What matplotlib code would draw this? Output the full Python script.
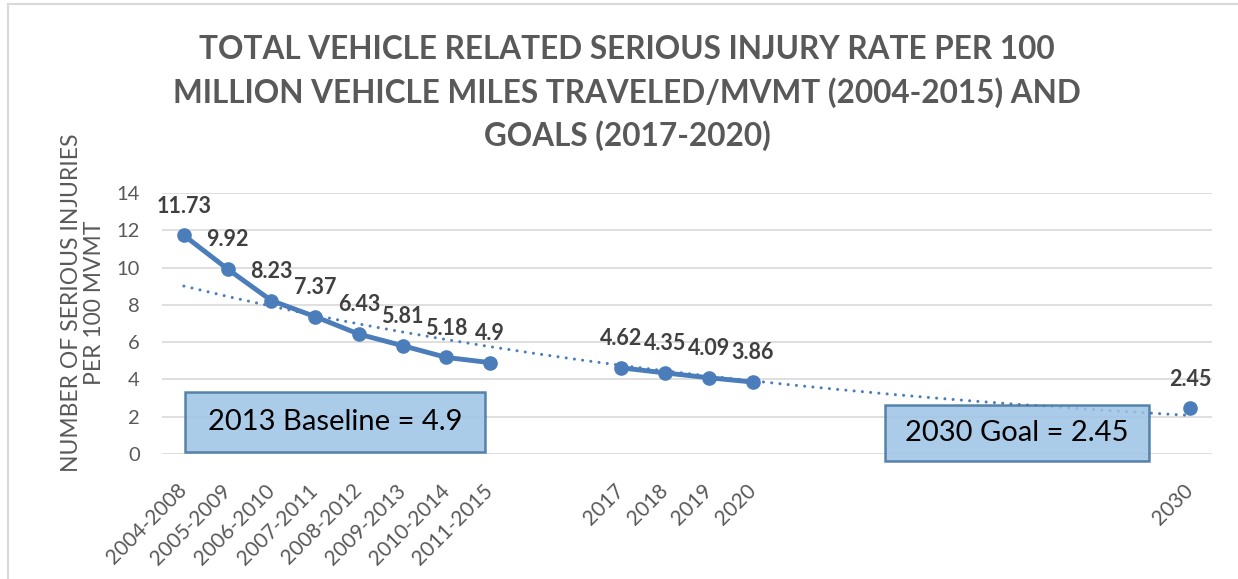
import matplotlib.pyplot as plt
import numpy as np
from matplotlib.patches import Rectangle

# categories along the x axis (blank slots keep the spacing of the original chart)
categories = ['2004-2008', '2005-2009', '2006-2010', '2007-2011', '2008-2012',
              '2009-2013', '2010-2014', '2011-2015', '', '',
              '2017', '2018', '2019', '2020',
              '', '', '', '', '', '', '', '', '',
              '2030']
nan = float('nan')
rates = [11.73, 9.92, 8.23, 7.37, 6.43, 5.81, 5.18, 4.9, nan, nan,
         4.62, 4.35, 4.09, 3.86,
         nan, nan, nan, nan, nan, nan, nan, nan, nan,
         2.45]
label_text = ['11.73', '9.92', '8.23', '7.37', '6.43', '5.81', '5.18', '4.9', '', '',
              '4.62', '4.35', '4.09', '3.86',
              '', '', '', '', '', '', '', '', '',
              '2.45']
yticks = [0, 2, 4, 6, 8, 10, 12, 14]

title = ('TOTAL VEHICLE RELATED SERIOUS INJURY RATE PER 100\n'
         'MILLION VEHICLE MILES TRAVELED/MVMT (2004-2015) AND\n'
         'GOALS (2017-2020)')
ylabel = 'NUMBER OF SERIOUS INJURIES\nPER 100 MVMT'
baseline_note = '2013 Baseline = 4.9'
goal_note = '2030 Goal = 2.45'

blue = '#4a7dba'
grey = '#595959'

plt.rcParams['font.family'] = ['Lato', 'DejaVu Sans']

W, H = 1238, 579
fig = plt.figure(figsize=(W / 100, H / 100), dpi=100)
ax = fig.add_axes([162 / W, 1 - 454 / H, 1050 / W, 261 / H])

x = np.arange(len(categories))
y = np.array(rates)

# exponential trendline fitted on the available points (like Excel)
ok = ~np.isnan(y)
coef = np.polyfit(x[ok], np.log(y[ok]), 1)
trend = np.exp(np.polyval(coef, x))
ax.plot(x, trend, color=blue, lw=2.2, linestyle=(0, (0.01, 2.7)),
        dash_capstyle='round', zorder=2)

ax.plot(x, y, color=blue, lw=3.5, marker='o', ms=9.5, zorder=3)

for xi, yi, t in zip(x, y, label_text):
    if t:
        ax.annotate(t, (xi, yi), xytext=(0, 21), textcoords='offset points',
                    ha='center', va='center', fontsize=15.5, fontweight='bold',
                    color='#404040', zorder=4)

ax.set_xlim(-0.5, len(categories) - 0.5)
ax.set_ylim(0, 14)
ax.set_yticks(yticks)
ax.set_xticks(x)
ax.set_xticklabels(categories, rotation=45, ha='right', va='center',
                   rotation_mode='anchor', fontsize=15, color=grey)
ax.tick_params(axis='x', length=0, pad=24)
ax.tick_params(axis='y', length=0, pad=16, labelsize=14.5, labelcolor=grey)
ax.grid(axis='y', color='#d9d9d9', lw=1.2)
ax.set_axisbelow(True)
for s in ax.spines.values():
    s.set_visible(False)

fig.text(83 / W, 1 - 303 / H, ylabel, rotation=90, ha='center', va='center',
         fontsize=16.5, color=grey, linespacing=1.1)

fig.text(627 / W, 1 - 93 / H, title, ha='center', va='center', fontsize=22.7,
         fontweight='bold', color=grey, linespacing=1.5)

# note boxes
for (x0, y0, x1, y1), note in [((185, 392, 485, 452), baseline_note),
                               ((885, 405, 1149, 461), goal_note)]:
    fig.patches.append(Rectangle((x0 / W, 1 - y1 / H), (x1 - x0) / W, (y1 - y0) / H,
                                 transform=fig.transFigure, facecolor='#9dc3e6',
                                 alpha=0.85, edgecolor='#41719c', lw=1.8, zorder=5))
    fig.text((x0 + x1) / 2 / W, 1 - (y0 + y1) / 2 / H, note, ha='center', va='center',
             fontsize=21, color='black', zorder=6)

# chart area border
fig.patches.append(Rectangle((8 / W, -0.05), 1.1, 1 - 4 / H + 0.05,
                             transform=fig.transFigure, fill=False,
                             edgecolor='#d9d9d9', lw=1.5))

fig.savefig('out.png', dpi=100)
